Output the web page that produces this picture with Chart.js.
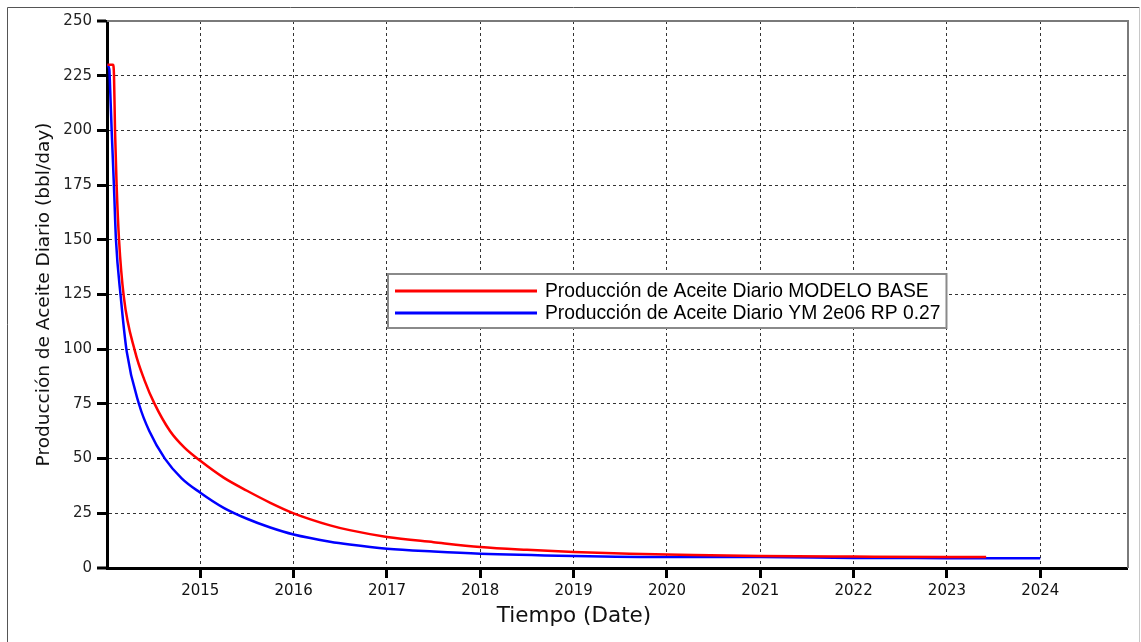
<!DOCTYPE html>
<html>
<head>
<meta charset="utf-8">
<title>Producción de Aceite Diario</title>
<script src="https://cdn.jsdelivr.net/npm/chart.js@4"></script>
<style>
  html, body { margin:0; padding:0; background:#fff; }
  #wrap { width:1141px; height:642px; position:relative; }
</style>
</head>
<body>
<div id="wrap"><canvas id="prodChart"></canvas></div>
<script>
// Daily oil production (x = decimal year, y = bbl/day)
const redLabel  = 'Producción de Aceite Diario MODELO BASE';
const redYears  = [2014.005, 2014.064, 2014.075, 2014.086, 2014.103, 2014.129, 2014.18, 2014.30, 2014.40, 2014.51, 2014.675, 2014.83, 2015.0, 2015.25, 2015.5, 2015.75, 2016.0, 2016.39, 2016.6, 2017.0, 2017.5, 2018.0, 2018.5, 2019.0, 2019.6, 2020.0, 2021.0, 2022.0, 2023.0, 2023.42];
const redValues = [230, 230, 225, 200, 175, 150, 124, 99, 86, 75, 62.6, 55, 49, 41.3, 35.3, 29.8, 25, 19.5, 17.3, 14.2, 11.8, 9.6, 8.3, 7.3, 6.5, 6.2, 5.5, 5.2, 5.0, 5.0];

const blueLabel  = 'Producción de Aceite Diario YM 2e06 RP 0.27';
const blueYears  = [2014.0, 2014.025, 2014.032, 2014.05, 2014.074, 2014.096, 2014.147, 2014.211, 2014.346, 2014.453, 2014.62, 2014.8, 2015.0, 2015.25, 2015.5, 2015.75, 2016.0, 2016.39, 2016.6, 2017.0, 2017.5, 2018.0, 2019.0, 2020.0, 2021.0, 2022.0, 2023.0, 2024.0];
const blueValues = [230, 228, 221, 200, 175, 150, 124, 99, 74.5, 62.6, 50, 41, 34.4, 27.5, 22.5, 18.5, 15.3, 12, 10.7, 8.8, 7.5, 6.5, 5.5, 5.0, 5.0, 4.6, 4.5, 4.4];

const xTickYears = [2014, 2015, 2016, 2017, 2018, 2019, 2020, 2021, 2022, 2023, 2024];
const yTicks     = [0, 25, 50, 75, 100, 125, 150, 175, 200, 225, 250];
const xTitle = 'Tiempo (Date)';
const yTitle = 'Producción de Aceite Diario (bbl/day)';

const FONT = '"DejaVu Sans", "Liberation Sans", Arial, sans-serif';
const LEGEND_FONT = '"Liberation Sans", Arial, sans-serif';
Chart.defaults.font.family = FONT;

function toPoints(xs, ys){ return xs.map((x, i) => ({ x, y: ys[i] })); }

// frame, plot border, floating legend, x title
const decor = {
  id: 'decor',
  beforeDraw(chart){
    const { ctx, width, height } = chart;
    ctx.save();
    ctx.fillStyle = '#fff';
    ctx.fillRect(0, 0, width, height);
    ctx.lineWidth = 1;
    ctx.strokeStyle = '#555';
    ctx.beginPath(); ctx.moveTo(7.5, height); ctx.lineTo(7.5, 7.5); ctx.lineTo(width - 1.5, 7.5); ctx.stroke();
    ctx.strokeStyle = '#c8c8c8';
    ctx.beginPath(); ctx.moveTo(width - 1.5, 7.5); ctx.lineTo(width - 1.5, height); ctx.stroke();
    ctx.restore();
  },
  afterDatasetsDraw(chart){
    const { ctx, chartArea: a } = chart;
    ctx.save();
    ctx.strokeStyle = '#7a7a7a';
    ctx.lineWidth = 2;
    ctx.beginPath(); ctx.moveTo(a.left, a.top); ctx.lineTo(a.right, a.top); ctx.lineTo(a.right, a.bottom); ctx.stroke();

    // legend box
    ctx.font = '19.3px ' + LEGEND_FONT;
    const textX = 545;
    const w = Math.max(...chart.data.datasets.map(d => ctx.measureText(d.label).width));
    const boxL = 388, boxT = 274, boxB = 328;
    const boxR = Math.max(946, textX + w + 6);
    ctx.fillStyle = '#fff';
    ctx.fillRect(boxL, boxT, boxR - boxL, boxB - boxT);
    ctx.strokeStyle = '#8a8a8a';
    ctx.lineWidth = 2;
    ctx.strokeRect(boxL, boxT, boxR - boxL, boxB - boxT);
    const rows = [291, 313];
    chart.data.datasets.forEach((d, i) => {
      ctx.strokeStyle = d.borderColor;
      ctx.lineWidth = 3;
      ctx.beginPath(); ctx.moveTo(395, rows[i]); ctx.lineTo(537, rows[i]); ctx.stroke();
      ctx.fillStyle = '#000';
      ctx.textAlign = 'left';
      ctx.textBaseline = 'middle';
      ctx.fillText(d.label, textX, rows[i] + 1);
    });

    // x axis title
    ctx.font = '21.5px ' + FONT;
    ctx.fillStyle = '#111';
    ctx.textAlign = 'center';
    ctx.textBaseline = 'middle';
    ctx.fillText(xTitle, 574, 616);
    ctx.restore();
  }
};

const ctx = document.getElementById('prodChart');
new Chart(ctx, {
  type: 'line',
  data: {
    datasets: [
      { label: redLabel, data: toPoints(redYears, redValues), borderColor: '#ff0000', borderWidth: 2.5, pointRadius: 0, cubicInterpolationMode: 'monotone', fill: false },
      { label: blueLabel, data: toPoints(blueYears, blueValues), borderColor: '#0000ff', borderWidth: 2.5, pointRadius: 0, cubicInterpolationMode: 'monotone', fill: false }
    ]
  },
  options: {
    responsive: true,
    maintainAspectRatio: false,
    animation: false,
    layout: { padding: { left: 0, right: 13, top: 21, bottom: 0 } },
    plugins: { legend: { display: false }, tooltip: { enabled: false } },
    scales: {
      x: {
        type: 'linear', min: 2014, max: 2024.94,
        afterBuildTicks: s => { s.ticks = xTickYears.map(v => ({ value: v })); },
        afterFit: s => { s.height = 74; },
        ticks: { callback: v => v === 2014 ? '' : String(v), font: { size: 15 }, color: '#111', padding: 4, maxRotation: 0, autoSkip: false },
        grid: {
          color: 'rgba(0,0,0,0.8)',
          lineWidth: c => (c.tick && c.tick.value === 2014) ? 0 : 1,
          tickLength: 10,
          tickWidth: c => (c.tick && c.tick.value === 2014) ? 0 : 3,
          tickColor: '#000'
        },
        border: { color: '#000', width: 3, dash: [3, 3] }
      },
      y: {
        min: 0, max: 250,
        afterBuildTicks: s => { s.ticks = yTicks.map(v => ({ value: v })); },
        afterFit: s => { s.width = 107; },
        ticks: { font: { size: 15 }, color: '#222', padding: 5 },
        grid: {
          color: 'rgba(0,0,0,0.8)',
          lineWidth: c => (c.tick && (c.tick.value === 0 || c.tick.value === 250)) ? 0 : 1,
          tickLength: 10,
          tickWidth: 3,
          tickColor: '#000'
        },
        border: { color: '#000', width: 3, dash: [3, 3] },
        title: { display: true, text: yTitle, font: { size: 18.5 }, color: '#111', padding: { top: 33, bottom: 0 } }
      }
    }
  },
  plugins: [decor]
});
</script>
</body>
</html>
